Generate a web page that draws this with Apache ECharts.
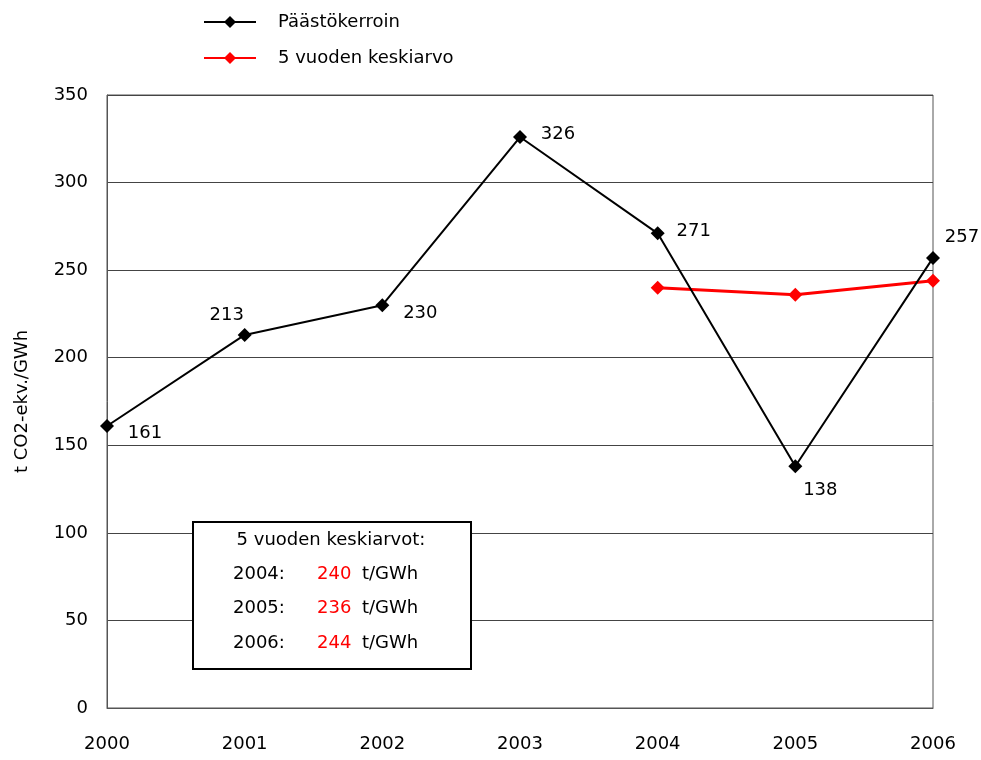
<!DOCTYPE html>
<html>
<head>
<meta charset="utf-8">
<script src="https://cdn.jsdelivr.net/npm/echarts@6/dist/echarts.min.js"></script>
<style>
  html, body { margin: 0; padding: 0; background: #fff; }
  #main { width: 981px; height: 760px; }
</style>
</head>
<body>
<div id="main"></div>
<script>
// data
var years = ["2000", "2001", "2002", "2003", "2004", "2005", "2006"];
var paastokerroin = [161, 213, 230, 326, 271, 138, 257];
var keskiarvo = [null, null, null, null, 240, 236, 244];
// label offsets for each black point (x, y)
var labelOffsets = [[38, 7], [-18, -20], [38, 8], [38, -3], [36, -2], [25, 24], [29, -21]];

var FONT = "DejaVu Sans";
var chartDom = document.getElementById("main");
var myChart = echarts.init(chartDom);

var blackData = paastokerroin.map(function (v, i) {
  return {
    value: v,
    label: { show: true, position: "inside", offset: labelOffsets[i] }
  };
});

// text box with the averages
var graphics = [
  {
    type: "rect",
    left: 192, top: 521,
    shape: { width: 278, height: 147 },
    style: { fill: "#fff", stroke: "#000", lineWidth: 2 },
    z: 100
  },
  {
    type: "text",
    x: 331, y: 540,
    style: { text: "5 vuoden keskiarvot:", font: "18px " + FONT, fill: "#000",
      align: "center", verticalAlign: "middle" },
    z: 101
  }
];
var rowY = [574, 608, 643];
var k = 0;
for (var i = 0; i < years.length; i++) {
  if (keskiarvo[i] == null) continue;
  var y = rowY[k++];
  graphics.push(
    { type: "text", x: 233, y: y, z: 101,
      style: { text: years[i] + ":", font: "18px " + FONT, fill: "#000", verticalAlign: "middle" } },
    { type: "text", x: 317, y: y, z: 101,
      style: { text: String(keskiarvo[i]), font: "18px " + FONT, fill: "#ff0000", verticalAlign: "middle" } },
    { type: "text", x: 362, y: y, z: 101,
      style: { text: "t/GWh", font: "18px " + FONT, fill: "#000", verticalAlign: "middle" } }
  );
}

var option = {
  animation: false,
  backgroundColor: "#fff",
  textStyle: { fontFamily: FONT },
  legend: {
    orient: "vertical",
    left: 198,
    top: 8,
    itemWidth: 52,
    itemHeight: 15,
    itemGap: 18,
    textStyle: { fontSize: 18, color: "#000", padding: [0, 0, 0, 17], fontFamily: FONT },
    data: ["Päästökerroin", "5 vuoden keskiarvo"]
  },
  grid: {
    left: 107, right: 48, top: 95, bottom: 52,
    show: true, borderColor: "#555", borderWidth: 1
  },
  xAxis: {
    type: "category",
    data: years,
    boundaryGap: false,
    axisTick: { show: false },
    axisLine: { lineStyle: { color: "#555" } },
    axisLabel: { color: "#000", fontSize: 18, margin: 27, fontFamily: FONT }
  },
  yAxis: {
    type: "value",
    min: 0, max: 350, interval: 50,
    name: "t CO2-ekv./GWh",
    nameLocation: "middle",
    nameGap: 76,
    nameTextStyle: { color: "#000", fontSize: 18, fontFamily: FONT },
    axisLine: { show: true, lineStyle: { color: "#555" } },
    axisTick: { show: false },
    axisLabel: { color: "#000", fontSize: 18, margin: 19, fontFamily: FONT },
    splitLine: { lineStyle: { color: "#444", width: 1 } }
  },
  series: [
    {
      name: "Päästökerroin",
      type: "line",
      data: blackData,
      symbol: "diamond",
      symbolSize: 14,
      itemStyle: { color: "#000" },
      lineStyle: { color: "#000", width: 2 },
      label: { color: "#000", fontSize: 18, fontFamily: FONT },
      z: 3
    },
    {
      name: "5 vuoden keskiarvo",
      type: "line",
      data: keskiarvo,
      symbol: "diamond",
      symbolSize: 14,
      itemStyle: { color: "#ff0000" },
      lineStyle: { color: "#ff0000", width: 3 },
      z: 2
    }
  ],
  graphic: graphics
};

myChart.setOption(option);
</script>
</body>
</html>
